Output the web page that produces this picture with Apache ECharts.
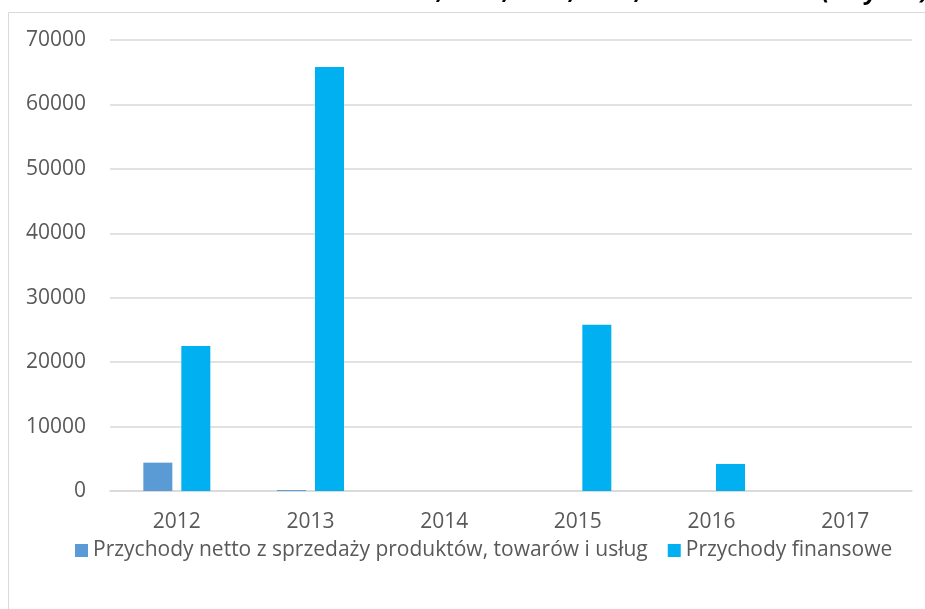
<!DOCTYPE html>
<html>
<head>
<meta charset="utf-8">
<script src="https://cdn.jsdelivr.net/npm/echarts@6/dist/echarts.min.js"></script>
<style>
  html, body { margin: 0; padding: 0; background: #fff; }
  #chart { width: 925px; height: 609px; }
</style>
</head>
<body>
<div id="chart"></div>
<script>
// dane z wykresu
var years = ['2012', '2013', '2014', '2015', '2016', '2017'];
var przychodyNetto = [4400, 150, 0, 0, 0, 0];
var przychodyFinansowe = [22500, 65800, 0, 25800, 4200, 0];
var yTicks = [0, 10000, 20000, 30000, 40000, 50000, 60000, 70000];

var tekst = '#595959';
var siatka = '#D9D9D9';
var font = 'Open Sans';

var myChart = echarts.init(document.getElementById('chart'));

var option = {
    backgroundColor: '#fff',
    textStyle: { fontFamily: font },
    title: {
        text: 'Zestawienie 2012, 2013, 2014, 2015, 2016 oraz 2017 (w tys. zł)',
        right: -4,
        top: -20,
        padding: 0,
        textStyle: {
            color: '#000',
            fontSize: 24,
            fontWeight: 'bold',
            fontStyle: 'italic',
            fontFamily: font
        }
    },
    graphic: [{
        type: 'rect',
        silent: true,
        shape: { x: 8.5, y: 12.5, width: 940, height: 620 },
        style: { fill: null, stroke: siatka, lineWidth: 1 }
    }],
    legend: {
        left: 70,
        top: 535,
        itemWidth: 13,
        itemHeight: 13,
        itemGap: 20,
        icon: 'rect',
        textStyle: { color: tekst, fontSize: 21, fontFamily: font },
        data: ['Przychody netto z sprzedaży produktów, towarów i usług', 'Przychody finansowe']
    },
    grid: {
        left: 110,
        right: 13,
        top: 40,
        bottom: 118
    },
    xAxis: {
        type: 'category',
        data: years,
        axisTick: { show: false },
        axisLine: { lineStyle: { color: siatka, width: 1.5 } },
        axisLabel: { color: tekst, fontSize: 21, margin: 21 }
    },
    yAxis: {
        type: 'value',
        min: yTicks[0],
        max: yTicks[yTicks.length - 1],
        interval: 10000,
        axisLine: { show: false },
        axisTick: { show: false },
        splitLine: { lineStyle: { color: siatka, width: 1.5 } },
        axisLabel: {
            color: tekst,
            fontSize: 21,
            margin: 24,
            formatter: function (v) { return String(v); }
        }
    },
    series: [{
        name: 'Przychody netto z sprzedaży produktów, towarów i usług',
        type: 'bar',
        data: przychodyNetto,
        barWidth: 29,
        barGap: '31%',
        itemStyle: { color: '#5B9BD5' }
    }, {
        name: 'Przychody finansowe',
        type: 'bar',
        data: przychodyFinansowe,
        barWidth: 29,
        barGap: '31%',
        itemStyle: { color: '#00B0F0' }
    }]
};

myChart.setOption(option);
</script>
</body>
</html>
